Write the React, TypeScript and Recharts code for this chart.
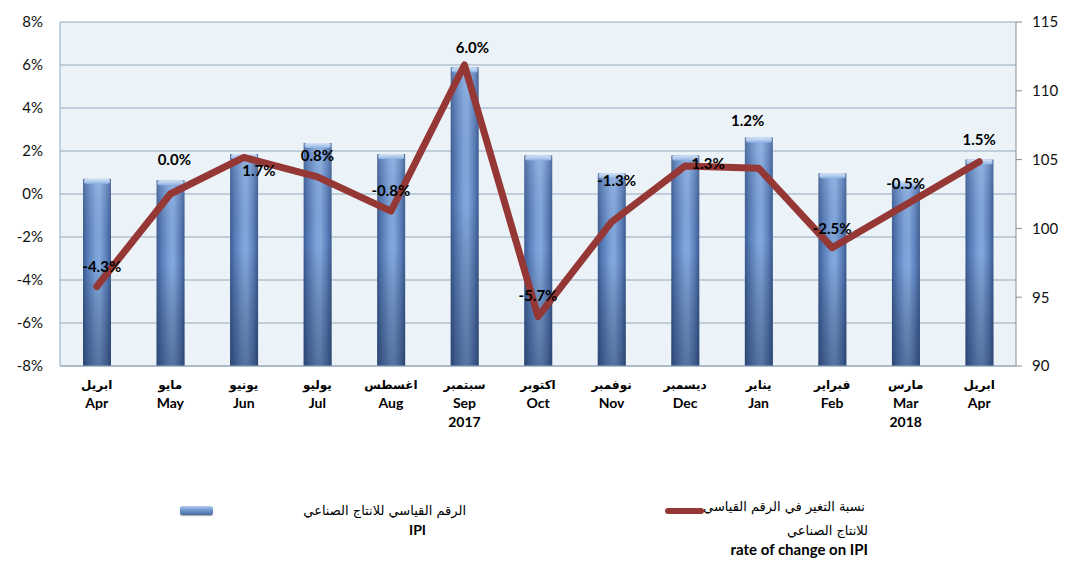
import {
  Bar,
  CartesianGrid,
  ComposedChart,
  LabelList,
  Legend,
  Line,
  XAxis,
  YAxis,
} from "recharts";

const monthsEn = ["Apr", "May", "Jun", "Jul", "Aug", "Sep", "Oct", "Nov", "Dec", "Jan", "Feb", "Mar", "Apr"];
const monthsAr = ["ابريل", "مايو", "يونيو", "يوليو", "اغسطس", "سبتمبر", "اكتوبر", "نوفمبر", "ديسمبر", "يناير", "فبراير", "مارس", "ابريل"];
const yearTags = ["", "", "", "", "", "2017", "", "", "", "", "", "2018", ""];

// IPI index level (right axis) and year-on-year change in % (left axis)
const ipiValues = [103.6, 103.5, 105.4, 106.2, 105.4, 111.7, 105.3, 104.0, 105.3, 106.6, 104.0, 103.4, 105.0];
const changeRates = [-4.3, 0.0, 1.7, 0.8, -0.8, 6.0, -5.7, -1.3, 1.3, 1.2, -2.5, -0.5, 1.5];

const rateTicks = [-8, -6, -4, -2, 0, 2, 4, 6, 8];
const ipiTicks = [90, 95, 100, 105, 110, 115];

// nudges for the % labels so they sit clear of the line
const labelShift: [number, number][] = [
  [5, -20], [4, -35], [15, 13], [0, -22], [0, -21], [8, -18], [0, -22],
  [5, -42], [23, -3], [-11, -48], [0, -20], [0, -22], [0, -23],
];

const chartData = monthsEn.map((en, i) => ({
  en,
  ipi: ipiValues[i],
  rate: changeRates[i],
}));

const LINE_RED = "#953735";
const GRID = "#93A8BD";
const LATIN = "Lato, 'Open Sans', sans-serif";
const ARABIC = "'DejaVu Sans', sans-serif";

const CylinderBar = (props: any) => {
  const { x, y, width, height } = props;
  if (!height || height <= 0) return null;
  return (
    <g>
      <rect x={x} y={y} width={width} height={height} fill="url(#barSide)" />
      <rect x={x} y={y} width={width} height={height} fill="url(#barShade)" />
      <rect x={x + 1} y={y} width={width - 2} height={5} rx={2} fill="url(#barCap)" />
    </g>
  );
};

const MonthTick = (props: any) => {
  const { x, y, payload } = props;
  const i = payload.index;
  return (
    <g>
      <text x={x} y={y + 23} textAnchor="middle" fontFamily={ARABIC} fontSize={12} fontWeight={700} fill="#000">
        {monthsAr[i]}
      </text>
      <text x={x} y={y + 42} textAnchor="middle" fontFamily={LATIN} fontSize={14} fontWeight={700} fill="#000">
        {monthsEn[i]}
      </text>
      {yearTags[i] && (
        <text x={x} y={y + 61} textAnchor="middle" fontFamily={LATIN} fontSize={14} fontWeight={700} fill="#000">
          {yearTags[i]}
        </text>
      )}
    </g>
  );
};

const RateLabel = (props: any) => {
  const { x, y, index, value } = props;
  const [dx, dy] = labelShift[index] || [0, -20];
  return (
    <text
      x={x + dx}
      y={y + dy}
      textAnchor="middle"
      dominantBaseline="central"
      fontFamily={LATIN}
      fontWeight={700}
      fontSize={15}
      fill="#000"
    >
      {`${Number(value).toFixed(1)}%`}
    </text>
  );
};

const arabicText = {
  position: "absolute" as const,
  direction: "rtl" as const,
  fontFamily: ARABIC,
  fontSize: 13,
  whiteSpace: "nowrap" as const,
  color: "#000",
};

const LegendBlock = () => (
  <div style={{ position: "relative", width: 1078, height: 0 }}>
    <div
      style={{
        position: "absolute",
        left: 180,
        top: 506,
        width: 33,
        height: 9,
        borderRadius: 2,
        background: "linear-gradient(to bottom, #B4CCEC 0%, #7098D0 45%, #4A6BA3 100%)",
        boxShadow: "0 1px 1px rgba(0,0,0,0.35)",
      }}
    />
    <div style={{ ...arabicText, right: 1078 - 466, top: 503 }}>
      الرقم القياسي للانتاج الصناعي
    </div>
    <div
      style={{
        position: "absolute",
        left: 409,
        top: 521,
        fontFamily: LATIN,
        fontWeight: 700,
        fontSize: 14,
        color: "#000",
      }}
    >
      IPI
    </div>
    <div
      style={{
        position: "absolute",
        left: 665,
        top: 508,
        width: 39,
        height: 6,
        borderRadius: 3,
        background: LINE_RED,
      }}
    />
    <div style={{ ...arabicText, right: 1078 - 865, top: 499 }}>
      نسبة التغير في الرقم القياسي
    </div>
    <div style={{ ...arabicText, right: 1078 - 868, top: 523 }}>
      للانتاج الصناعي
    </div>
    <div
      style={{
        position: "absolute",
        right: 1078 - 868,
        top: 540,
        fontFamily: LATIN,
        fontWeight: 700,
        fontSize: 15,
        whiteSpace: "nowrap",
        color: "#000",
      }}
    >
      rate of change on IPI
    </div>
  </div>
);

export default function App() {
  return (
    <div style={{ position: "absolute", left: 0, top: 0, width: 1078, height: 567, background: "#fff" }}>
      <ComposedChart
        width={1078}
        height={567}
        data={chartData}
        margin={{ top: 22, right: 0, bottom: 131, left: 0 }}
        barCategoryGap={0}
      >
        <defs>
          <linearGradient id="barSide" x1="0" y1="0" x2="1" y2="0">
            <stop offset="0%" stopColor="#3D5C92" />
            <stop offset="15%" stopColor="#5479B6" />
            <stop offset="45%" stopColor="#7CA3DA" />
            <stop offset="60%" stopColor="#82A9DE" />
            <stop offset="85%" stopColor="#5A7EBB" />
            <stop offset="100%" stopColor="#3C5B90" />
          </linearGradient>
          <linearGradient id="barShade" x1="0" y1="0" x2="0" y2="1">
            <stop offset="0%" stopColor="#FFFFFF" stopOpacity={0.12} />
            <stop offset="45%" stopColor="#000000" stopOpacity={0} />
            <stop offset="100%" stopColor="#0F1E3C" stopOpacity={0.38} />
          </linearGradient>
          <linearGradient id="barCap" x1="0" y1="0" x2="0" y2="1">
            <stop offset="0%" stopColor="#D4E3F6" />
            <stop offset="100%" stopColor="#8EB2E2" />
          </linearGradient>
        </defs>
        <CartesianGrid
          yAxisId="left"
          vertical={false}
          stroke={GRID}
          strokeWidth={1}
          fill="#EBF3F8"
        />
        <XAxis
          dataKey="en"
          tick={<MonthTick />}
          tickLine={false}
          tickSize={0}
          tickMargin={0}
          height={70}
          axisLine={{ stroke: GRID }}
          interval={0}
        />
        <YAxis
          yAxisId="left"
          orientation="left"
          domain={[-8, 8]}
          ticks={rateTicks}
          width={60}
          tickFormatter={(v) => `${v}%`}
          tick={{ fontFamily: LATIN, fontSize: 15, fill: "#111" }}
          tickLine={false}
          tickSize={6}
          tickMargin={11}
          axisLine={{ stroke: GRID }}
        />
        <YAxis
          yAxisId="right"
          orientation="right"
          domain={[90, 115]}
          ticks={ipiTicks}
          width={62}
          tick={{ fontFamily: LATIN, fontSize: 15, fill: "#111", textAnchor: "start" }}
          tickLine={{ stroke: "#8C8C8C" }}
          tickSize={6}
          tickMargin={10}
          axisLine={{ stroke: "#8C8C8C" }}
        />
        <Bar
          yAxisId="right"
          dataKey="ipi"
          barSize={28}
          shape={<CylinderBar />}
          isAnimationActive={false}
        />
        <Line
          yAxisId="left"
          dataKey="rate"
          stroke={LINE_RED}
          strokeWidth={7}
          strokeLinecap="round"
          strokeLinejoin="round"
          dot={false}
          activeDot={false}
          isAnimationActive={false}
        >
          <LabelList dataKey="rate" content={<RateLabel />} />
        </Line>
        <Legend
          content={() => <LegendBlock />}
          wrapperStyle={{ left: 0, top: 0, width: 1078, height: 0 }}
        />
      </ComposedChart>
    </div>
  );
}
